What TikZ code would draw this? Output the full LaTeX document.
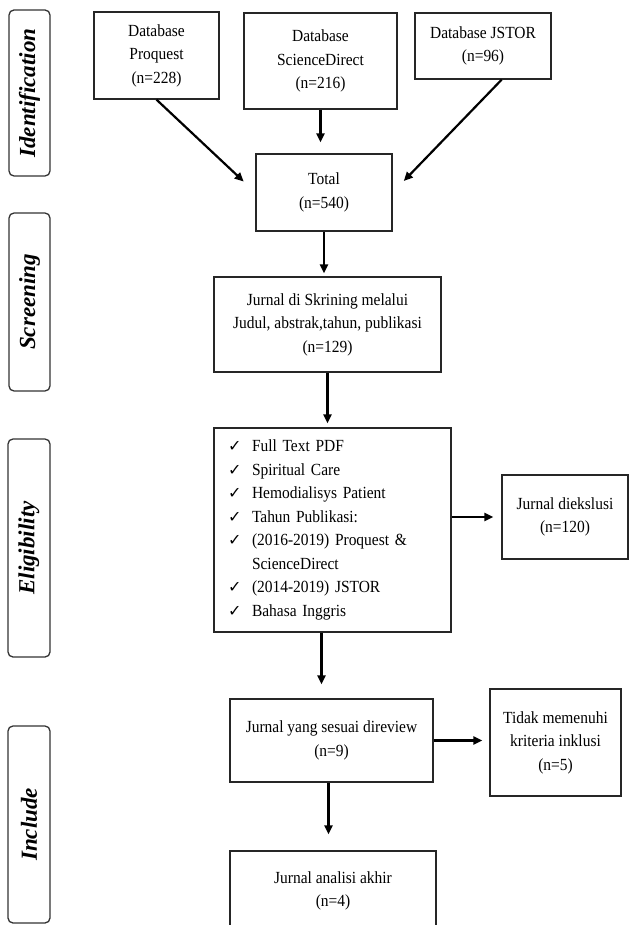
\documentclass[tikz,border=0pt]{standalone}
\usepackage{fontspec}
\setmainfont{Liberation Serif}
\newfontfamily\boxfont[FakeStretch=0.91]{Liberation Serif}
\newfontfamily\chkfont{DejaVu Sans}
\usetikzlibrary{arrows.meta,calc,positioning}
\newcommand{\chk}{\makebox[24pt][l]{\chkfont\fontsize{16}{16}\selectfont ✓}}

\begin{document}
\begin{tikzpicture}[x=1pt,y=-1pt,
  box/.style={draw=black!85,line width=1.3pt,align=center,inner sep=0pt,font=\boxfont\fontsize{17}{23.5}\selectfont},
  stage/.style={draw=black!80,line width=1.3pt,rounded corners=5pt,inner sep=0pt,rotate=90,font=\bfseries\itshape\fontsize{23}{23}\selectfont},
  arr/.style={line width=2.2pt,-{Triangle[length=9pt,width=8pt]}}]
        \useasboundingbox (0,0) rectangle (630,925);
        \node[stage,minimum width=166,minimum height=41] (sId) at (29.5,93) {Identification};
        \node[stage,minimum width=178,minimum height=41] (sScr) at (29.5,302) {Screening};
        \node[stage,minimum width=218,minimum height=42] (sElig) at (29,548) {Eligibility};
        \node[stage,minimum width=197,minimum height=42] (sInc) at (29,824.5) {Include};
        \node[box,minimum width=125,minimum height=87] (prq) at (156.5,55.5) {Database\\Proquest\\(n=228)};
        \node[box,minimum width=153,minimum height=96] (sd) at (320.5,61) {Database\\ScienceDirect\\(n=216)};
        \node[box,minimum width=136,minimum height=66] (jst) at (483,46) {Database JSTOR\\(n=96)};
        \node[box,minimum width=136,minimum height=77] (tot) at (324,192.5) {Total\\(n=540)};
        \node[box,minimum width=227,minimum height=95] (scr) at (327.5,324.5) {Jurnal di Skrining melalui\\Judul, abstrak,tahun, publikasi\\(n=129)};
        \node[box,align=left,text width=209pt,inner xsep=14pt,minimum height=204] (elig) at (332.5,530) {\chk Full Text PDF\\
          \chk Spiritual Care\\
          \chk Hemodialisys Patient\\
          \chk Tahun Publikasi:\\
          \chk (2016-2019) Proquest \&\\
          \hspace*{24pt}ScienceDirect\\
          \chk (2014-2019) JSTOR\\
          \chk Bahasa Inggris};
        \node[box,minimum width=126,minimum height=84] (excl) at (565,517) {Jurnal diekslusi\\(n=120)};
        \node[box,minimum width=203,minimum height=83] (rev) at (331.5,740.5) {Jurnal yang sesuai direview\\(n=9)};
        \node[box,minimum width=131,minimum height=107] (tdk) at (555.5,742.5) {Tidak memenuhi\\kriteria inklusi\\(n=5)};
        \node[box,minimum width=206,minimum height=80] (akh) at (333,891) {Jurnal analisi akhir\\(n=4)};
        \draw[arr,shorten >=16pt] (prq.south) -- (tot.west);
        \draw[arr,shorten >=11pt] (sd.south) -- (sd.south |- tot.north);
        \draw[arr,shorten >=16pt] (jst.-61) -- (tot.east);
        \draw[arr,shorten >=3pt] (tot.south) -- (tot.south |- scr.north);
        \draw[arr,shorten >=4pt] (scr.south) -- (scr.south |- elig.north);
        \draw[arr,shorten >=8pt] (elig.east |- excl.west) -- (excl.west);
        \draw[arr,shorten >=14pt] ([xshift=-11pt]elig.south) -- ([xshift=-11pt]elig.south |- rev.north);
        \draw[arr,shorten >=7pt] (rev.east) -- (rev.east -| tdk.west);
        \draw[arr,shorten >=16pt] ([xshift=-3pt]rev.south) -- ([xshift=-3pt]rev.south |- akh.north);
      \end{tikzpicture}
\end{document}
